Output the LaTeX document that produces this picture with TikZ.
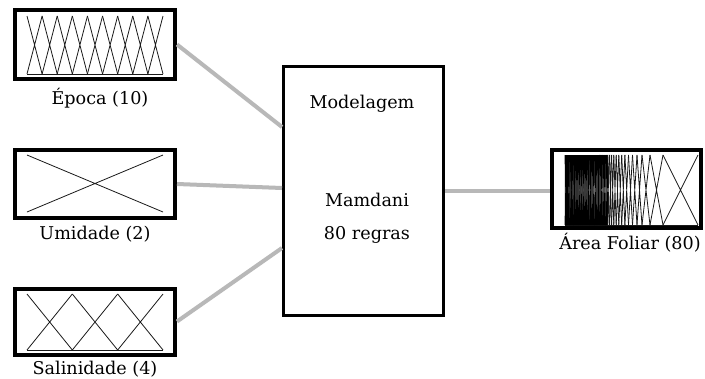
\documentclass[tikz,border=0pt]{standalone}
\usepackage{fontspec}
\setmainfont{DejaVu Serif}
\definecolor{linkgray}{gray}{0.72}
\begin{document}
\begin{tikzpicture}[x=1pt,y=-1pt,
  mfbox/.style={draw=black, line width=4pt, minimum width=160pt, inner sep=0pt},
  fisbox/.style={draw=black, line width=3pt, minimum width=160pt, minimum height=249pt, inner sep=0pt},
  link/.style={draw=linkgray, line width=4pt},
  mf/.style={line width=0.8pt, draw=black!90},
  lbl/.style={font=\fontsize{17.6}{20}\selectfont, inner sep=0pt}]
\useasboundingbox (0,0) rectangle (705,378);
\fill[white] (0,0) rectangle (705,378);

% boxes
\node[mfbox, minimum height=69pt] (epoca) at (95,44.5) {};
\node[mfbox, minimum height=68pt] (umid) at (95,184) {};
\node[mfbox, minimum height=66pt] (salin) at (95,321.5) {};
\node[fisbox] (fis) at (363.5,191) {};
\node[mfbox, minimum width=149pt, minimum height=78pt] (area) at (626.5,189) {};

% connectors
\draw[link] (epoca.east) -- ([yshift=64pt]fis.west);
\draw[link] (umid.east) -- ([yshift=3pt]fis.west);
\draw[link] (salin.east) -- ([yshift=-57pt]fis.west);
\draw[link] (fis.east) -- (fis.east -| area.west);

% Epoca: 10 MFs
\draw[mf] (27,74) -- (163,74);
\foreach \i in {0,...,8}{
  \pgfmathsetmacro\a{27+136/9*\i}
  \pgfmathsetmacro\b{27+136/9*(\i+1)}
  \draw[mf] (\a,16) -- (\b,74) (\a,74) -- (\b,16);
}
% Umidade: 2 MFs
\draw[mf] (27,155) -- (163,212) (27,212) -- (163,155);
% Salinidade: 4 MFs
\draw[mf] (27,350) -- (163,350);
\foreach \i in {0,1,2}{
  \pgfmathsetmacro\a{27+136/3*\i}
  \pgfmathsetmacro\b{27+136/3*(\i+1)}
  \draw[mf] (\a,294) -- (\b,350) (\a,350) -- (\b,294);
}
% Area foliar: 80 MFs
\draw[mf] (565,225) -- (698,225);
\foreach \i in {0,...,64}{
  \pgfmathsetmacro\a{565+42.8*(\i/65)^1.15}
  \pgfmathsetmacro\b{565+42.8*((\i+1)/65)^1.15}
  \draw[line width=0.6pt, black] (\a,155) -- (\b,225) (\a,225) -- (\b,155);
}
\foreach \a/\b in {607.8/609.6, 609.6/611.6, 611.6/613.8, 613.8/616.2, 616.2/618.8,
  618.8/621.7, 621.7/624.9, 624.9/628.5, 628.5/632.5, 632.5/637, 637/642,
  642/650, 650/663, 663/698}{
  \draw[mf] (\a,155) -- (\b,225) (\a,225) -- (\b,155);
}

% labels
\node[lbl] (lepoca) at (100,98) {Época (10)};
\node[lbl] (lumid) at (95,234) {Umidade (2)};
\node[lbl, anchor=base] (lsalin) at (95,374) {Salinidade (4)};
\node[lbl] (larea) at (630,243) {Área Foliar (80)};
\node[lbl] (tmod) at (362,104) {Modelagem};
\node[lbl] (tmam) at (367,200) {Mamdani};
\node[lbl] (treg) at (367,235) {80 regras};
\end{tikzpicture}
\end{document}
